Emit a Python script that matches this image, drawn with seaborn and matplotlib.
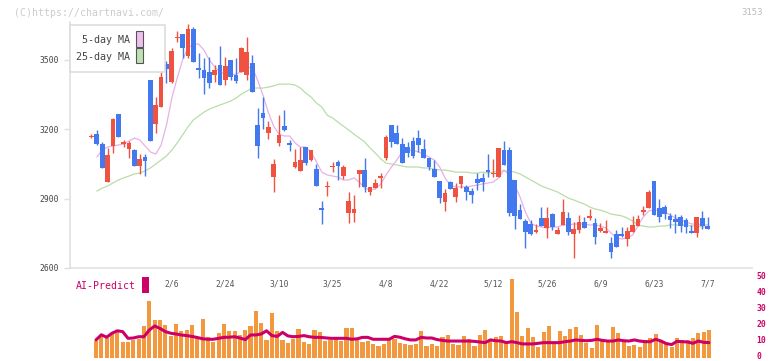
import numpy as np
import matplotlib
matplotlib.use("Agg")
import matplotlib.pyplot as plt
from matplotlib.patches import Rectangle
from matplotlib.transforms import ScaledTranslation
import seaborn as sns

# Datos (precio en yenes, un valor por sesion)
opens = [3166, 3178, 3135, 2971, 3127, 3265, 3137, 3114, 3109, 3040,
         3079, 3412, 3222, 3295, 3481, 3403, 3595, 3610, 3515, 3632,
         3463, 3455, 3446, 3433, 3476, 3412, 3498, 3433, 3446, 3433,
         3485, 3217, 3269, 3183, 2993, 3140, 3213, 3140, 3036, 3019,
         3122, 3066, 3027, 2858, 2950, 3036, 3058, 2997, 2837, 2837,
         3006, 3023, 2928, 2945, 2989, 3075, 3217, 3183, 3135, 3122,
         3148, 3161, 3114, 3075, 3027, 2976, 2885, 2971, 2907, 2963,
         2950, 2932, 2984, 2989, 3023, 3006, 2993, 3109, 3109, 2980,
         2850, 2803, 2790, 2755, 2816, 2773, 2833, 2747, 2786, 2816,
         2747, 2764, 2799, 2816, 2794, 2760, 2751, 2708, 2747, 2747,
         2725, 2755, 2781, 2842, 2859, 2976, 2859, 2863, 2824, 2812,
         2820, 2807, 2760, 2751, 2816, 2781]
highs = [3178, 3196, 3144, 3118, 3248, 3265, 3153, 3148, 3114, 3092,
         3092, 3412, 3338, 3446, 3494, 3550, 3623, 3610, 3653, 3640,
         3528, 3507, 3511, 3476, 3558, 3511, 3498, 3507, 3555, 3597,
         3520, 3291, 3338, 3235, 3071, 3261, 3282, 3153, 3114, 3122,
         3122, 3109, 3049, 2889, 2976, 3058, 3066, 3045, 2928, 2915,
         3023, 3075, 2950, 2984, 3010, 3174, 3217, 3217, 3161, 3144,
         3166, 3196, 3157, 3075, 3066, 2976, 2941, 2976, 2967, 2997,
         2958, 2945, 3010, 3010, 3092, 3071, 3118, 3148, 3122, 2980,
         2876, 2812, 2807, 2790, 2863, 2863, 2837, 2777, 2898, 2842,
         2799, 2829, 2820, 2855, 2816, 2794, 2807, 2734, 2764, 2777,
         2777, 2824, 2829, 2868, 2937, 2976, 2898, 2872, 2837, 2833,
         2829, 2816, 2786, 2820, 2846, 2820]
lows = [3161, 3131, 3032, 2971, 3096, 3166, 3122, 3075, 3040, 3006,
        2997, 3148, 3183, 3295, 3399, 3399, 3576, 3507, 3507, 3489,
        3420, 3351, 3377, 3403, 3390, 3390, 3412, 3399, 3446, 3412,
        3360, 3075, 3200, 3157, 2928, 3127, 3191, 3105, 3032, 3019,
        3045, 3062, 2954, 2790, 2911, 3015, 2980, 2984, 2794, 2799,
        2950, 2928, 2915, 2945, 2945, 3066, 3122, 3135, 3053, 3079,
        3075, 3101, 3075, 3023, 2993, 2881, 2846, 2941, 2885, 2945,
        2893, 2881, 2937, 2932, 2993, 2993, 2993, 3045, 2825, 2768,
        2812, 2686, 2742, 2751, 2781, 2730, 2764, 2747, 2786, 2742,
        2643, 2751, 2773, 2807, 2704, 2755, 2751, 2643, 2691, 2734,
        2695, 2755, 2781, 2829, 2859, 2829, 2799, 2812, 2773, 2751,
        2755, 2751, 2751, 2734, 2768, 2768]
closes = [3172, 3135, 3032, 3088, 3243, 3166, 3142, 3140, 3040, 3070,
          3062, 3148, 3304, 3425, 3459, 3537, 3598, 3550, 3632, 3489,
          3455, 3420, 3399, 3455, 3390, 3472, 3425, 3407, 3550, 3532,
          3360, 3127, 3248, 3209, 3049, 3174, 3196, 3131, 3058, 3066,
          3053, 3109, 2954, 2852, 2956, 3042, 3040, 3036, 2889, 2855,
          3023, 2950, 2950, 2967, 2997, 3166, 3144, 3135, 3053, 3096,
          3084, 3131, 3075, 3036, 2993, 2902, 2924, 2941, 2945, 2997,
          2928, 2915, 2967, 2971, 3015, 3012, 3118, 3045, 2837, 2825,
          2812, 2755, 2747, 2764, 2781, 2816, 2777, 2764, 2842, 2755,
          2768, 2799, 2773, 2824, 2734, 2773, 2760, 2669, 2691, 2738,
          2760, 2786, 2812, 2850, 2928, 2829, 2820, 2833, 2807, 2799,
          2781, 2777, 2751, 2820, 2781, 2768]

nan = np.nan
ma5 = [nan, 3079, 3109, 3122, 3127, 3131, 3135, 3148, 3161, 3153,
       3127, 3101, 3092, 3131, 3217, 3334, 3420, 3498, 3550, 3567,
       3567, 3541, 3498, 3468, 3446, 3438, 3433, 3438, 3446, 3463,
       3468, 3412, 3347, 3273, 3213, 3178, 3170, 3170, 3140, 3122,
       3122, 3101, 3058, 3014, 3002, 2997, 2993, 2980, 2980, 2989,
       2971, 2945, 2937, 2941, 2963, 3002, 3036, 3066, 3101, 3109,
       3109, 3101, 3092, 3079, 3066, 3036, 2989, 2958, 2950, 2950,
       2950, 2954, 2958, 2963, 2967, 2971, 2989, 3023, 3002, 2958,
       2907, 2842, 2794, 2781, 2777, 2773, 2777, 2777, 2786, 2786,
       2790, 2790, 2790, 2786, 2786, 2781, 2773, 2751, 2730, 2725,
       2730, 2742, 2781, 2820, 2846, 2850, 2850, 2842, 2829, 2816,
       2807, 2799, 2790, 2790, 2786, 2786]
ma25 = [nan, 2932, 2945, 2954, 2967, 2980, 2989, 2997, 3006, 3010,
        3019, 3032, 3049, 3066, 3084, 3109, 3140, 3174, 3209, 3239,
        3256, 3273, 3286, 3295, 3304, 3312, 3321, 3334, 3351, 3364,
        3377, 3377, 3377, 3381, 3386, 3394, 3394, 3394, 3390, 3377,
        3355, 3338, 3312, 3295, 3260, 3248, 3230, 3213, 3196, 3178,
        3161, 3144, 3118, 3096, 3071, 3053, 3049, 3045, 3040, 3036,
        3036, 3036, 3032, 3032, 3027, 3023, 3023, 3019, 3014, 3014,
        3014, 3010, 3010, 3014, 3010, 3014, 3019, 3019, 3019, 3014,
        3006, 2993, 2980, 2967, 2954, 2945, 2937, 2928, 2915, 2902,
        2894, 2885, 2876, 2863, 2855, 2850, 2842, 2833, 2829, 2825,
        2816, 2803, 2786, 2781, 2777, 2777, 2781, 2781, 2786, 2786,
        2786, 2786, 2781, 2781, 2777, 2777]

volume = [10.6, 12.9, 12.3, 15.0, 16.5, 10.2, 10.2, 11.3, 11.7, 20.0,
          35.6, 23.8, 23.8, 20.6, 13.7, 21.3, 16.9, 17.5, 20.6, 12.3,
          24.4, 12.9, 10.2, 15.8, 21.3, 16.9, 16.9, 14.4, 17.5, 20.0,
          29.4, 22.0, 11.3, 28.3, 16.9, 11.3, 9.6, 11.7, 18.1, 10.2,
          8.5, 17.5, 16.5, 10.6, 11.3, 12.9, 10.6, 18.5, 18.5, 11.3,
          10.2, 10.6, 8.5, 7.3, 8.8, 11.3, 11.9, 9.6, 8.5, 8.1,
          8.8, 16.9, 7.7, 8.8, 7.5, 13.3, 14.4, 8.8, 8.1, 13.8,
          11.9, 7.5, 14.4, 17.5, 11.9, 13.3, 13.8, 10.2, 49.4, 28.9,
          13.8, 18.5, 13.3, 7.1, 16.5, 20.0, 10.2, 16.9, 13.8, 17.9,
          19.6, 14.4, 9.2, 6.5, 20.6, 11.3, 10.2, 19.6, 15.8, 11.3,
          7.5, 8.1, 7.1, 11.3, 12.7, 15.0, 11.3, 9.2, 6.7, 12.7,
          11.5, 11.3, 12.7, 15.8, 16.5, 17.5]
ai_predict = [11.3, 14.5, 13.0, 15.5, 17.0, 16.5, 12.3, 12.5, 13.3, 13.3,
              17.5, 20.0, 18.5, 16.5, 15.5, 15.0, 14.4, 14.0, 13.5, 12.8,
              12.0, 11.7, 11.7, 12.3, 12.9, 13.0, 13.3, 12.5, 11.5, 14.4,
              14.4, 15.0, 17.0, 14.0, 13.5, 16.0, 13.8, 13.3, 13.5, 14.0,
              13.3, 12.9, 12.9, 12.6, 12.3, 12.3, 12.3, 12.3, 11.7, 12.0,
              12.9, 12.9, 11.7, 11.7, 11.7, 11.7, 13.5, 13.0, 12.0, 11.3,
              11.3, 12.9, 12.5, 12.5, 11.5, 11.0, 10.6, 10.6, 10.6, 10.6,
              10.6, 10.4, 10.0, 9.6, 11.3, 10.8, 10.6, 9.6, 10.2, 9.6,
              8.8, 8.8, 8.8, 9.2, 9.6, 9.6, 9.6, 9.6, 10.2, 10.6,
              11.3, 11.0, 10.8, 11.0, 11.7, 11.0, 10.6, 10.6, 11.3, 10.8,
              10.6, 11.3, 10.6, 10.2, 10.2, 11.7, 10.6, 9.0, 8.4, 10.4,
              10.2, 10.0, 9.2, 10.6, 9.8, 9.6]

date_labels = ['2/6', '2/24', '3/10', '3/25', '4/8', '4/22',
               '5/12', '5/26', '6/9', '6/23', '7/7']
date_idx = [15, 25, 35, 45, 55, 65, 75, 85, 95, 105, 115]
price_ticks = [2600, 2900, 3200, 3500]
ai_ticks = [0, 10, 20, 30, 40, 50]

# Colores
RED = '#f05242'
BLUE = '#4279ee'
PINK = '#e8b0e8'
GREEN = '#b8dea8'
ORANGE = '#f2993f'
CRIMSON = '#cc0066'
GRID = '#e0e0e0'

sns.set_theme(style="white")
plt.rcParams['font.family'] = ['DejaVu Sans Mono']

W, H = 772, 361
fig = plt.figure(figsize=(W / 100, H / 100), dpi=100)


def fx(px):
    return px / W


def fy(py):
    return 1 - py / H


# Panel de velas
ax = fig.add_axes([fx(70), fy(268), 682 / W, 245.5 / H])
x = np.arange(len(closes))
o = np.array(opens, dtype=float)
c = np.array(closes, dtype=float)
up = c >= o
colors = np.where(up, RED, BLUE)
body_h = np.maximum(np.abs(c - o), 4.5)
body_mid = (o + c) / 2

sns.lineplot(x=x, y=ma25, ax=ax, color=GREEN, lw=0.9, zorder=2)
sns.lineplot(x=x, y=ma5, ax=ax, color=PINK, lw=0.9, zorder=2)
ax.vlines(x, lows, highs, colors=colors, lw=1.0, zorder=3)
ax.bar(x, body_h, bottom=body_mid - body_h / 2, width=0.88,
       color=colors, linewidth=0, zorder=4)

ax.set_xlim(-4.01, 123.3)
ax.set_ylim(2600, 3660)
ax.set_xticks(date_idx)
ax.set_xticklabels(date_labels)
ax.set_xticks(np.arange(-4.01, 124, 11.574), minor=True)
ax.set_yticks(price_ticks)
ax.set_yticklabels([str(t) for t in price_ticks])
ax.tick_params(axis='x', which='major', length=0, pad=8,
               labelsize=5.8, labelcolor='#555555')
ax.tick_params(axis='x', which='minor', length=6, width=1.0,
               color=GRID, direction='inout')
ax.tick_params(axis='y', length=4, width=1.0, color=GRID, pad=4,
               labelsize=5.8, labelcolor='#444444', left=True)
for s in ['top', 'right']:
    ax.spines[s].set_visible(False)
for s in ['left', 'bottom']:
    ax.spines[s].set_color(GRID)
    ax.spines[s].set_linewidth(1.2)
ax.set_xlabel('')
ax.set_ylabel('')

# Leyenda
fig.add_artist(Rectangle((fx(70), fy(72)), 95 / W, 47 / H, transform=fig.transFigure,
                         facecolor='white', edgecolor='#dddddd', lw=1.2, zorder=10))
fig.text(fx(130), fy(40), '5-day MA', ha='right', va='center',
         fontsize=7.2, color='#444444', zorder=11)
fig.text(fx(130), fy(57), '25-day MA', ha='right', va='center',
         fontsize=7.2, color='#444444', zorder=11)
fig.add_artist(Rectangle((fx(136), fy(47)), 7 / W, 16 / H, transform=fig.transFigure,
                         facecolor='#efc0ef', edgecolor='#555555', lw=0.8, zorder=11))
fig.add_artist(Rectangle((fx(136), fy(63)), 7 / W, 15 / H, transform=fig.transFigure,
                         facecolor='#bfe0b2', edgecolor='#555555', lw=0.8, zorder=11))

fig.text(fx(14), fy(12.5), '(C)https://chartnavi.com/', ha='left', va='center',
         fontsize=7.1, color='#cccccc')
fig.text(fx(763), fy(12.5), '3153', ha='right', va='center',
         fontsize=6.5, color='#bbbbbb')

# Panel AI-Predict
ax2 = fig.add_axes([fx(70), fy(358), 682 / W, 80 / H])
ax2.set_facecolor('none')
sns.barplot(x=x, y=volume, ax=ax2, native_scale=True, color=ORANGE,
            saturation=1, width=0.78, errorbar=None, linewidth=0, zorder=1)
sns.lineplot(x=x, y=ai_predict, ax=ax2, color=CRIMSON, lw=2.2, zorder=3)
ax2.set_xlim(-4.88, 123.08)
ax2.set_ylim(0, 50)
ax2.set_xticks([])
ax2.set_yticks(ai_ticks)
ax2.set_yticklabels([str(t) for t in ai_ticks])
ax2.yaxis.tick_right()
ax2.tick_params(axis='y', length=0, pad=3, labelsize=5.8,
                labelcolor=CRIMSON)
shift = ScaledTranslation(0, 1.8 / 72, fig.dpi_scale_trans)
for lbl in ax2.get_yticklabels():
    lbl.set_fontweight('bold')
    lbl.set_transform(lbl.get_transform() + shift)
for s in ax2.spines.values():
    s.set_visible(False)
ax2.set_xlabel('')
ax2.set_ylabel('')

fig.text(fx(76), fy(286), 'AI-Predict', ha='left', va='center',
         fontsize=7.1, color=CRIMSON)
fig.add_artist(Rectangle((fx(142), fy(293)), 7 / W, 16 / H, transform=fig.transFigure,
                         facecolor=CRIMSON, edgecolor='none', zorder=11))

fig.savefig('out.png', dpi=100)
